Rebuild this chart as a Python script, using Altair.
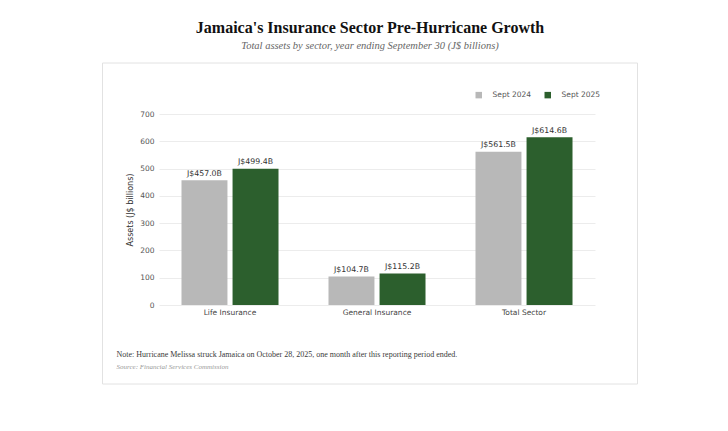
import altair as alt
import pandas as pd

sectors = ["Life Insurance", "General Insurance", "Total Sector"]
years = ["Sept 2024", "Sept 2025"]
assets_2024 = [457.0, 104.7, 561.5]
assets_2025 = [499.4, 115.2, 614.6]

rows = []
for s, a, b in zip(sectors, assets_2024, assets_2025):
    rows.append({"sector": s, "year": years[0], "value": a, "label": f"J${a:.1f}B"})
    rows.append({"sector": s, "year": years[1], "value": b, "label": f"J${b:.1f}B"})
df = pd.DataFrame(rows)

SERIF = "Liberation Serif"
SANS = "DejaVu Sans"

x_enc = alt.X("sector:N", sort=sectors, title=None,
              scale=alt.Scale(paddingInner=0.34, paddingOuter=0.153),
              axis=alt.Axis(labelAngle=0, labelFont=SANS, labelFontSize=7.5,
                            labelColor="#444", ticks=False, domain=False, labelPadding=3))
xo_enc = alt.XOffset("year:N", sort=years, scale=alt.Scale(paddingInner=0.1))
y_enc = alt.Y("value:Q", title="Assets (J$ billions)",
              scale=alt.Scale(domain=[0, 700]),
              axis=alt.Axis(values=[0, 100, 200, 300, 400, 500, 600, 700],
                            labelFont=SANS, labelFontSize=7.5, labelColor="#555",
                            titleFont=SANS, titleFontSize=8, titleFontWeight="normal",
                            titleColor="#333", ticks=False, domain=False,
                            labelPadding=5, titlePadding=5,
                            gridColor="#ececec"))
color_enc = alt.Color("year:N", sort=years,
                      scale=alt.Scale(domain=years, range=["#b8b8b8", "#2c5f2d"]),
                      legend=alt.Legend(title=None, orient="none", direction="horizontal",
                                        legendX=316, legendY=-23, symbolType="square",
                                        symbolSize=42, symbolStrokeWidth=0,
                                        labelFont=SANS, labelFontSize=7.5,
                                        labelColor="#555", columnPadding=12, labelOffset=10))

frame = alt.Chart(alt.Data(values=[{}])).mark_rect(
    filled=False, stroke="#e2e2e2", strokeWidth=1
).encode(x=alt.value(-56.5), x2=alt.value(478.5), y=alt.value(-51), y2=alt.value(270))

bars = alt.Chart(df).mark_bar().encode(x=x_enc, xOffset=xo_enc, y=y_enc, color=color_enc)

labels = alt.Chart(df).mark_text(dy=-6.5, font=SANS, fontSize=7.8, color="#333").encode(
    x=x_enc, xOffset=xo_enc, y=y_enc, text="label:N")

note = alt.Chart(alt.Data(values=[{}])).mark_text(
    align="left", baseline="middle", font=SERIF, fontSize=8, color="#3a3a3a"
).encode(x=alt.value(-42.5), y=alt.value(241),
         text=alt.value("Note: Hurricane Melissa struck Jamaica on October 28, 2025, one month after this reporting period ended."))

source = alt.Chart(alt.Data(values=[{}])).mark_text(
    align="left", baseline="middle", font=SERIF, fontSize=7, fontStyle="italic", color="#999"
).encode(x=alt.value(-42.5), y=alt.value(253),
         text=alt.value("Source: Financial Services Commission"))

chart = alt.layer(frame, bars, labels, note, source).properties(
    width=436, height=191,
    padding={"left": 94, "top": 12, "right": 10, "bottom": 10},
    title=alt.TitleParams(
        text="Jamaica's Insurance Sector Pre-Hurricane Growth",
        subtitle="Total assets by sector, year ending September 30 (J$ billions)",
        anchor="middle", font=SERIF, fontSize=16, fontWeight="bold", color="#111",
        subtitleFont=SERIF, subtitleFontSize=10.5, subtitleFontStyle="italic",
        subtitleColor="#666", offset=11, subtitlePadding=5, dx=-7),
).configure(background="white", view=alt.ViewConfig(stroke="transparent"))

chart.save("out.html", embed_options={"renderer": "svg", "actions": False})
